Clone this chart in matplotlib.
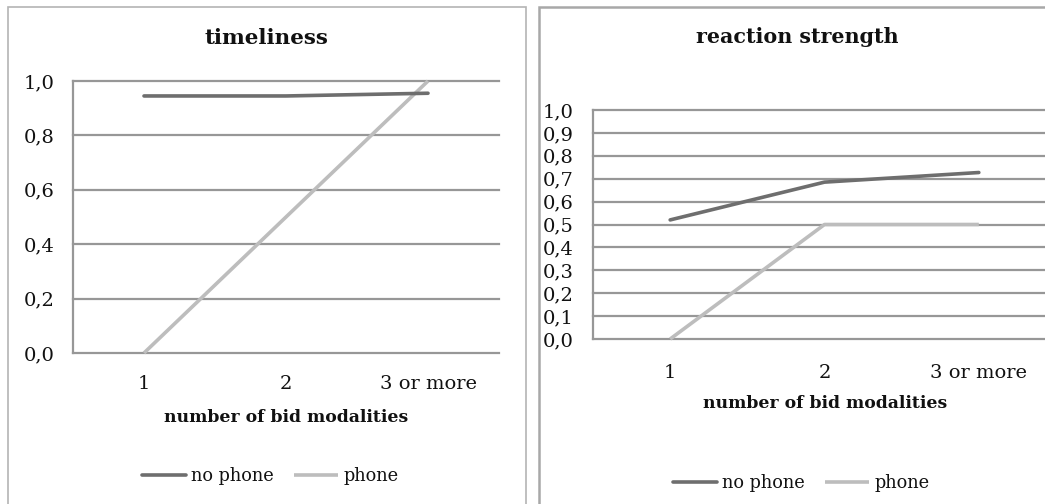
import matplotlib
matplotlib.use("Agg")
import matplotlib.pyplot as plt
from matplotlib.patches import Rectangle

# ---- data -------------------------------------------------------------
categories = ["1", "2", "3 or more"]
series_names = ["no phone", "phone"]

timeliness_no_phone = [0.945, 0.945, 0.955]
timeliness_phone = [0.0, 0.5, 1.0]

reaction_no_phone = [0.52, 0.685, 0.727]
reaction_phone = [0.0, 0.5, 0.5]

timeliness_yticks = [0.0, 0.2, 0.4, 0.6, 0.8, 1.0]
reaction_yticks = [0.0, 0.1, 0.2, 0.3, 0.4, 0.5, 0.6, 0.7, 0.8, 0.9, 1.0]

# ---- styling ----------------------------------------------------------
W, H = 1045, 504
DARK = "#6e6e6e"
LIGHT = "#bdbdbd"
GRID = "#979797"
FRAME = "#a8a8a8"
TEXT = "#111111"
SERIF = ["DejaVu Serif"]

plt.rcParams["font.family"] = SERIF
plt.rcParams["text.color"] = TEXT
plt.rcParams["xtick.color"] = TEXT
plt.rcParams["ytick.color"] = TEXT

fig = plt.figure(figsize=(W / 100, H / 100), dpi=100)


def fx(px):
    return px / W


def fy(py):
    return 1 - py / H


def px_axes(x0, y0, x1, y1):
    return fig.add_axes([fx(x0), fy(y1), fx(x1 - x0), (y1 - y0) / H])


def comma(v, decimals=1):
    return f"{v:.{decimals}f}".replace(".", ",")


def panel(ax, no_phone, phone, yticks, title, title_size, title_xy,
          xlabel_xy, legend_xy, tick_pad, ytick_pad):
    x = list(range(len(categories)))
    ax.set_xlim(-0.5, len(categories) - 0.5)
    ax.set_ylim(0, 1.0)
    for y in yticks:
        ax.axhline(y, color=GRID, lw=1.6, zorder=1, clip_on=False)
    ax.plot(x, no_phone, color=DARK, lw=2.6, solid_capstyle="round",
            label=series_names[0], zorder=3, clip_on=False)
    ax.plot(x, phone, color=LIGHT, lw=2.6, solid_capstyle="butt",
            label=series_names[1], zorder=2, clip_on=False)
    ax.set_xticks(x)
    ax.set_xticklabels(categories)
    ax.set_yticks(yticks)
    ax.set_yticklabels([comma(v) for v in yticks])
    ax.tick_params(axis="x", length=0, pad=tick_pad, labelsize=14)
    ax.tick_params(axis="y", length=0, pad=ytick_pad, labelsize=14)
    for s in ("top", "right", "bottom"):
        ax.spines[s].set_visible(False)
    ax.spines["left"].set_color(GRID)
    ax.spines["left"].set_linewidth(1.6)
    ax.patch.set_alpha(0)

    fig.text(fx(title_xy[0]), fy(title_xy[1]), title, ha="center",
             va="center", fontsize=title_size, fontweight="bold")
    fig.text(fx(xlabel_xy[0]), fy(xlabel_xy[1]), "number of bid modalities",
             ha="center", va="center", fontsize=12.4, fontweight="bold")
    fig.legend(handles=ax.get_lines()[-2:], loc="center",
               bbox_to_anchor=(fx(legend_xy[0]), fy(legend_xy[1])),
               ncol=2, frameon=False, fontsize=12.8, handlelength=2.5,
               handletextpad=0.3, columnspacing=1.1, borderpad=0,
               borderaxespad=0)


# panel frames
fig.patches.append(Rectangle((fx(8), fy(H + 10)), fx(526 - 8), (H + 3) / H,
                             transform=fig.transFigure, fill=False,
                             edgecolor="#b4b4b4", lw=1.2))
fig.patches.append(Rectangle((fx(539), fy(H + 10)), fx(1100 - 539), (H + 3) / H,
                             transform=fig.transFigure, fill=False,
                             edgecolor=FRAME, lw=1.8))

ax1 = px_axes(73, 81, 499, 353)
panel(ax1, timeliness_no_phone, timeliness_phone, timeliness_yticks,
      "timeliness", 15.4, (266, 38), (286, 417), (270, 476), 16, 13)

ax2 = px_axes(593, 110, 1056, 339)
panel(ax2, reaction_no_phone, reaction_phone, reaction_yticks,
      "reaction strength", 14.9, (797, 37), (825, 404), (801, 483), 18, 14)

fig.savefig("out.png", dpi=100)
